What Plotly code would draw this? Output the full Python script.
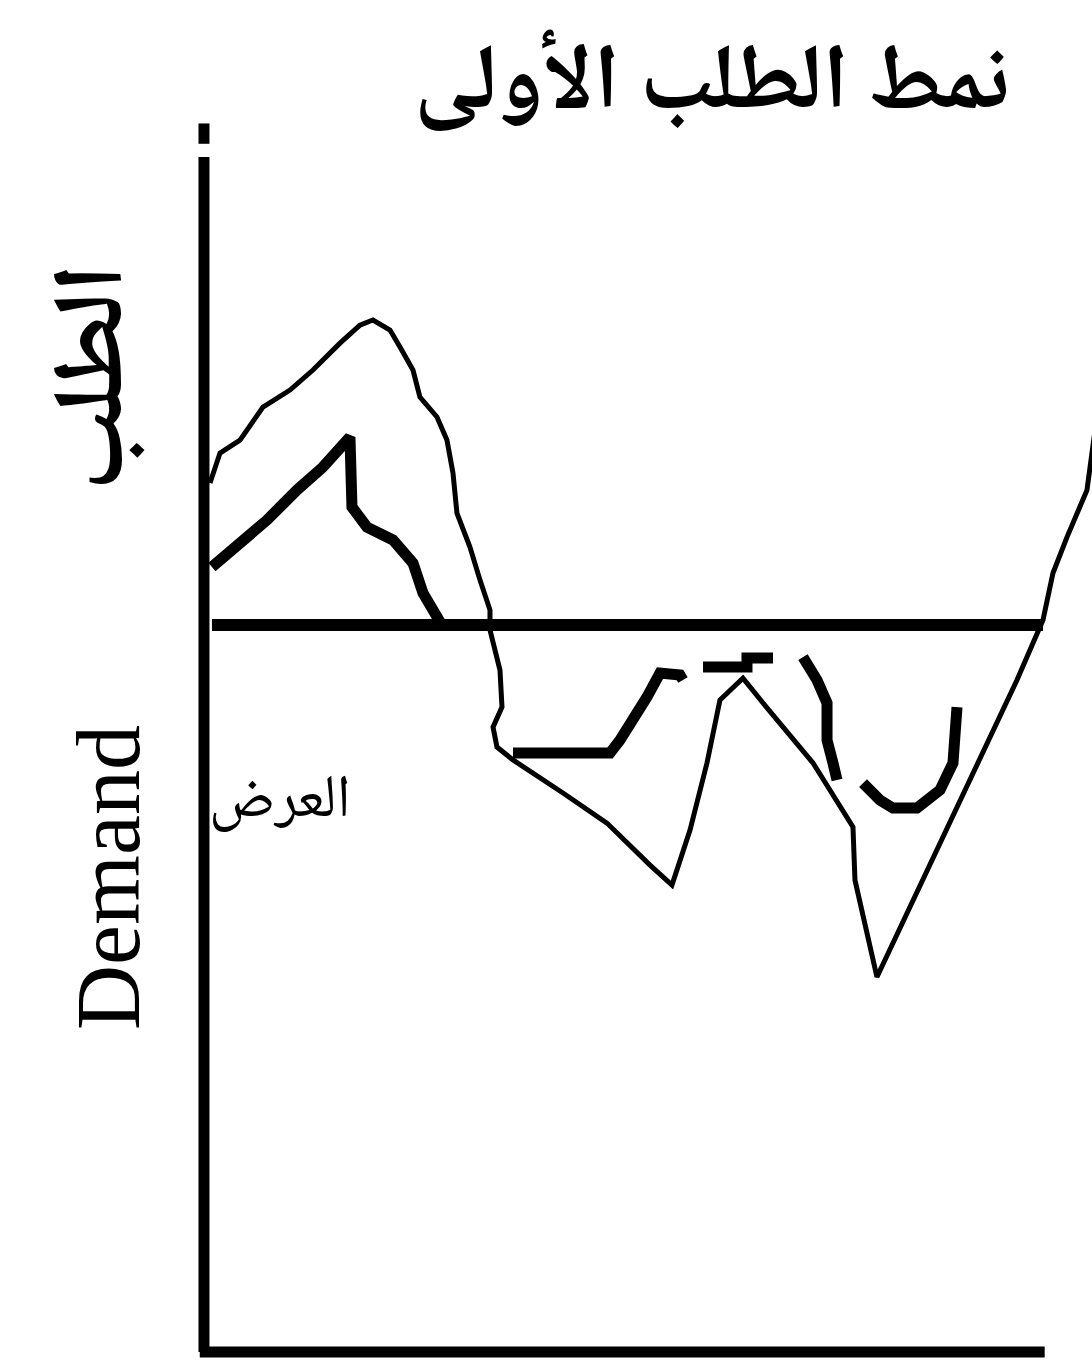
import plotly.graph_objects as go

# Time axis (0-100) and demand level (supply level = 50)
demand_t = [0.72, 1.91, 4.29, 7.03, 10.25, 12.99, 16.21, 18.59, 20.14, 22.17, 23.36, 24.91,
            25.74, 27.77, 28.96, 29.68, 30.15, 31.70, 32.90, 34.09, 34.09, 35.28, 35.52, 34.45,
            34.92, 36.83, 42.79, 48.03, 53.16, 55.78, 57.93, 59.95, 61.50, 64.24, 66.63, 72.59,
            77.35, 77.59, 80.21, 85.70, 93.09, 96.90, 100.0, 101.19, 102.86, 105.24, 106.2]
demand_v = [59.77, 61.83, 62.72, 64.99, 66.16, 67.54, 69.39, 70.63, 70.98, 70.29, 69.12, 67.54,
            65.68, 64.31, 62.72, 60.45, 57.70, 55.36, 53.09, 51.03, 49.66, 46.90, 44.36, 42.98,
            41.61, 40.72, 38.45, 36.38, 33.49, 32.12, 35.90, 40.51, 44.84, 46.35, 44.64, 40.51,
            36.11, 32.46, 25.79, 32.46, 41.40, 46.22, 50.34, 53.58, 56.05, 59.28, 63.4]

supply_level = 50
supply_t = [0.95, 100.0]

# Heavy strokes of the first demand pattern
seg_a_t = [0.95, 3.93, 7.51, 11.08, 14.18, 17.40, 17.64, 19.43, 22.53, 24.91, 26.10, 28.49]
seg_a_v = [53.99, 55.36, 57.22, 59.28, 60.87, 62.93, 58.12, 56.74, 55.85, 54.26, 52.20, 49.86]
seg_b_t = [36.83, 48.39, 49.58, 51.97, 52.80, 54.35, 56.73, 57.09]
seg_b_v = [41.20, 41.20, 42.09, 44.15, 45.05, 46.70, 46.56, 46.22]
seg_c_t = [59.48, 64.72, 64.72, 67.82]
seg_c_v = [47.11, 47.11, 47.73, 47.73]
seg_d_t = [71.39, 73.06, 74.26, 74.26, 74.97, 75.45]
seg_d_v = [47.80, 46.22, 44.64, 42.09, 40.51, 39.34]
seg_e_t = [78.55, 80.57, 82.12, 84.98, 87.72, 89.27, 89.75]
seg_e_v = [39.13, 37.96, 37.41, 37.41, 38.65, 40.51, 44.36]

title_text = "نمط الطلب الأولى"
y_title_ar = "الطلب"
y_title_en = "Demand"
supply_label = "العرض"

W, H = 1092, 1365
X_RANGE = [-24.31, 105.84]
Y_RANGE = [-0.894, 92.99]

fig = go.Figure()

fig.add_trace(go.Scatter(x=demand_t, y=demand_v, mode="lines",
                         line=dict(color="black", width=5), hoverinfo="skip"))
fig.add_trace(go.Scatter(x=supply_t, y=[supply_level, supply_level], mode="lines",
                         line=dict(color="black", width=12), hoverinfo="skip"))
for st, sv in [(seg_a_t, seg_a_v), (seg_b_t, seg_b_v), (seg_c_t, seg_c_v),
               (seg_d_t, seg_d_v), (seg_e_t, seg_e_v)]:
    fig.add_trace(go.Scatter(x=st, y=sv, mode="lines",
                             line=dict(color="black", width=11), hoverinfo="skip"))

# Hand-drawn axes
axis_style = dict(color="black", width=11)
fig.add_shape(type="line", x0=0, x1=0, y0=0, y1=82.2, xref="x", yref="y", line=axis_style)
fig.add_shape(type="line", x0=0, x1=0, y0=83.1, y1=84.5, xref="x", yref="y", line=axis_style)
fig.add_shape(type="line", x0=-0.5, x1=100.2, y0=0, y1=0, xref="x", yref="y", line=axis_style)

arabic_font = "Noto Naskh Arabic, Amiri, DejaVu Sans, sans-serif"

fig.add_annotation(text="<b>" + title_text + "</b>", xref="paper", yref="paper",
                   x=712 / W, y=1 - 88 / H,
                   xanchor="center", yanchor="middle", showarrow=False,
                   font=dict(family=arabic_font, size=92, color="black"))
fig.add_annotation(text="<b>" + y_title_ar + "</b>", xref="paper", yref="paper",
                   x=100 / W, y=1 - 378 / H,
                   xanchor="center", yanchor="middle", showarrow=False, textangle=-90,
                   font=dict(family=arabic_font, size=100, color="black"))
fig.add_annotation(text=y_title_en, xref="paper", yref="paper", x=108 / W, y=1 - 878 / H,
                   xanchor="center", yanchor="middle", showarrow=False, textangle=-90,
                   font=dict(family="Liberation Serif, Times New Roman, serif", size=90,
                             color="black"))
fig.add_annotation(text=supply_label, xref="paper", yref="paper", x=280 / W, y=1 - 803 / H,
                   xanchor="center", yanchor="middle", showarrow=False,
                   font=dict(family=arabic_font, size=60, color="black"))

fig.update_layout(
    width=W, height=H,
    margin=dict(l=0, r=0, t=0, b=0),
    paper_bgcolor="white", plot_bgcolor="white",
    showlegend=False,
    xaxis=dict(range=X_RANGE, visible=False, fixedrange=True),
    yaxis=dict(range=Y_RANGE, visible=False, fixedrange=True),
)

fig.write_html("out.html")
